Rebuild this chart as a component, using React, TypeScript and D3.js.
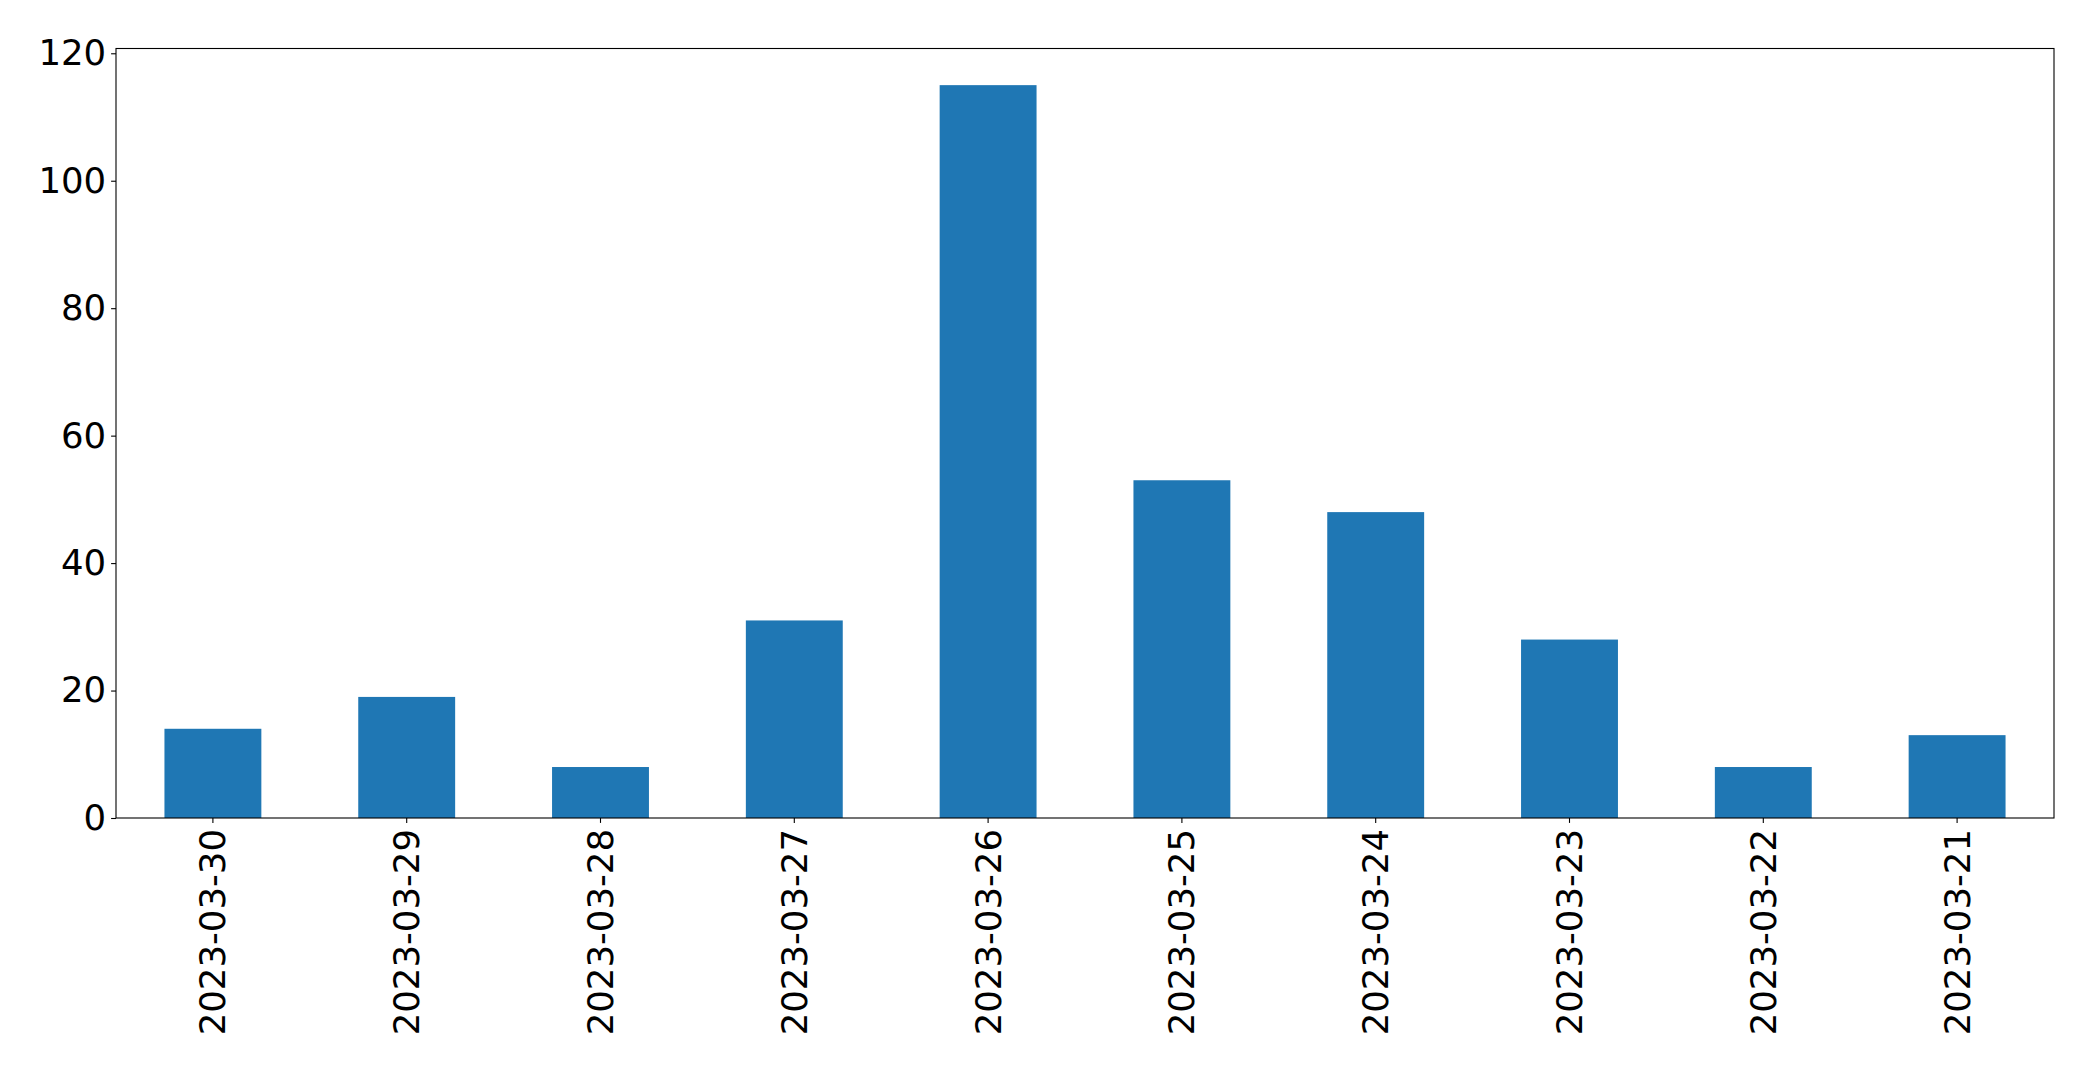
import * as d3 from "d3";
import { useEffect, useRef } from "react";

// dates in plotting order (left to right)
const dates = [
	"2023-03-30",
	"2023-03-29",
	"2023-03-28",
	"2023-03-27",
	"2023-03-26",
	"2023-03-25",
	"2023-03-24",
	"2023-03-23",
	"2023-03-22",
	"2023-03-21",
];
const counts = [14, 19, 8, 31, 115, 53, 48, 28, 8, 13];
const yTicks = [0, 20, 40, 60, 80, 100, 120];

const width = 2093;
const height = 1070;
const margin = { top: 48.5, right: 39, bottom: 252, left: 116 };

const App = () => {
	const svgRef = useRef<SVGSVGElement | null>(null);

	useEffect(() => {
		const svg = d3.select(svgRef.current);
		svg.selectAll("*").remove();

		const chartWidth = width - margin.left - margin.right;
		const chartHeight = height - margin.top - margin.bottom;

		//band scale, half-width bars like pandas' default
		const xScale = d3
			.scaleBand()
			.domain(dates)
			.range([0, chartWidth])
			.paddingInner(0.5)
			.paddingOuter(0.25);

		const yScale = d3
			.scaleLinear()
			.domain([0, (d3.max(counts) || 0) * 1.05])
			.range([chartHeight, 0]);

		svg.append("rect").attr("width", width).attr("height", height).attr("fill", "white");

		const g = svg
			.append("g")
			.attr("transform", `translate(${margin.left},${margin.top})`);

		g.selectAll("rect.bar")
			.data(dates)
			.enter()
			.append("rect")
			.attr("class", "bar")
			.attr("x", (d) => xScale(d)!)
			.attr("width", xScale.bandwidth())
			.attr("y", (_, i) => yScale(counts[i]))
			.attr("height", (_, i) => chartHeight - yScale(counts[i]))
			.attr("fill", "#1f77b4");

		const font = "'DejaVu Sans', sans-serif";
		const fontSize = 35.5;

		const yAxis = d3
			.axisLeft(yScale)
			.tickValues(yTicks)
			.tickSize(4.9)
			.tickPadding(4.9)
			.tickFormat((d) => `${d}`);
		const yg = g.append("g").call(yAxis);
		yg.select(".domain").remove();
		yg.selectAll("line").attr("stroke", "black").attr("stroke-width", 1.1);
		yg.selectAll("text")
			.attr("font-family", font)
			.attr("font-size", fontSize)
			.attr("fill", "black");

		const xAxis = d3.axisBottom(xScale).tickSize(4.9).tickPadding(0);
		const xg = g
			.append("g")
			.attr("transform", `translate(0,${chartHeight})`)
			.call(xAxis);
		xg.select(".domain").remove();
		xg.selectAll("line").attr("stroke", "black").attr("stroke-width", 1.1);
		xg.selectAll("text")
			.attr("font-family", font)
			.attr("font-size", fontSize)
			.attr("fill", "black")
			.attr("y", 0)
			.attr("dy", "0.35em")
			.attr("text-anchor", "end")
			.attr("transform", "translate(0,11) rotate(-90)");

		//frame around the plot area
		g.append("rect")
			.attr("width", chartWidth)
			.attr("height", chartHeight)
			.attr("fill", "none")
			.attr("stroke", "black")
			.attr("stroke-width", 1.1);
	}, []);

	return (
		<svg
			ref={svgRef}
			width={width}
			height={height}
			style={{ position: "absolute", left: 0, top: 0 }}
		/>
	);
};

export default App;
